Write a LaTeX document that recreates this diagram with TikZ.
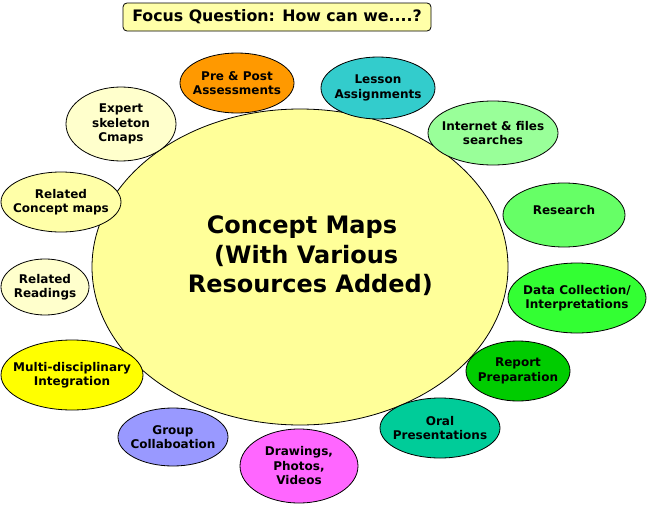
\documentclass[tikz,border=0pt]{standalone}
\usepackage{fontspec}
\setmainfont{DejaVu Sans}
\usetikzlibrary{shapes.geometric}
\definecolor{cmain}{HTML}{FFFF99}
\definecolor{cfocus}{HTML}{FFFFA8}
\definecolor{cpre}{HTML}{FF9900}
\definecolor{clesson}{HTML}{33CCCC}
\definecolor{cinternet}{HTML}{99FF99}
\definecolor{cresearch}{HTML}{66FF66}
\definecolor{cdata}{HTML}{33FF33}
\definecolor{creport}{HTML}{00CC00}
\definecolor{coral}{HTML}{00CC99}
\definecolor{cdraw}{HTML}{FF66FF}
\definecolor{cgroup}{HTML}{9999FF}
\definecolor{cmulti}{HTML}{FFFF00}
\definecolor{cpale}{HTML}{FFFFCC}
\definecolor{crelcm}{HTML}{FFFFA8}
\tikzset{
  bubtext/.style={align=center, font=\fontsize{12}{14.5}\selectfont\bfseries},
  bubline/.style={line width=0.8pt, draw=black},
}
\newcommand{\bubble}[7]{% name, x, y, rx, ry, color, text
  \draw[bubline, fill=#6] (#2,#3) ellipse [x radius=#4, y radius=#5];
  \node[bubtext] (#1) at (#2,#3) {#7};
}
\begin{document}
\begin{tikzpicture}[x=1pt, y=-1pt]
\useasboundingbox (0,0) rectangle (648,506);
\fill[white] (0,0) rectangle (648,506);
% focus question
\node[draw=black, line width=0.8pt, rounded corners=4pt, fill=cfocus,
  minimum width=308pt, minimum height=28pt, inner sep=0pt,
  font=\fontsize{15.8}{18}\selectfont\bfseries] (focus) at (277,17) {Focus Question: How can we....?};
% main
\draw[bubline, fill=cmain] (300,267) ellipse [x radius=208, y radius=158];
\node[align=center, font=\fontsize{24}{29.5}\selectfont\bfseries] (main) at (302,256)
  {Concept Maps\\ \ (With Various\\ \ \ Resources Added)};
\bubble{pre}{237}{83}{57}{30}{cpre}{Pre \& Post\\Assessments}
\bubble{lesson}{378}{88}{57}{31}{clesson}{Lesson\\Assignments}
\bubble{internet}{493}{133}{65}{32}{cinternet}{Internet \& files\\searches}
\bubble{research}{564}{215}{61}{32}{cresearch}{\raisebox{10pt}{Research}}
\bubble{data}{577}{298}{69}{35}{cdata}{Data Collection/\\Interpretations}
\bubble{report}{518}{371}{52}{30}{creport}{Report\\Preparation}
\bubble{oral}{440}{428}{60}{30}{coral}{Oral\\Presentations}
\bubble{drawings}{299}{466}{59}{37}{cdraw}{Drawings,\\Photos,\\Videos}
\bubble{group}{173}{437}{55}{29}{cgroup}{Group\\Collaboation}
\bubble{multi}{72}{375}{71}{35}{cmulti}{Multi-disciplinary\\Integration}
\bubble{readings}{45}{287}{44}{28}{cpale}{Related\\Readings}
\bubble{relcm}{61}{202}{60}{30}{crelcm}{Related\\Concept maps}
\bubble{expert}{121}{124}{55}{37}{cpale}{Expert\\skeleton\\Cmaps}
\end{tikzpicture}
\end{document}
